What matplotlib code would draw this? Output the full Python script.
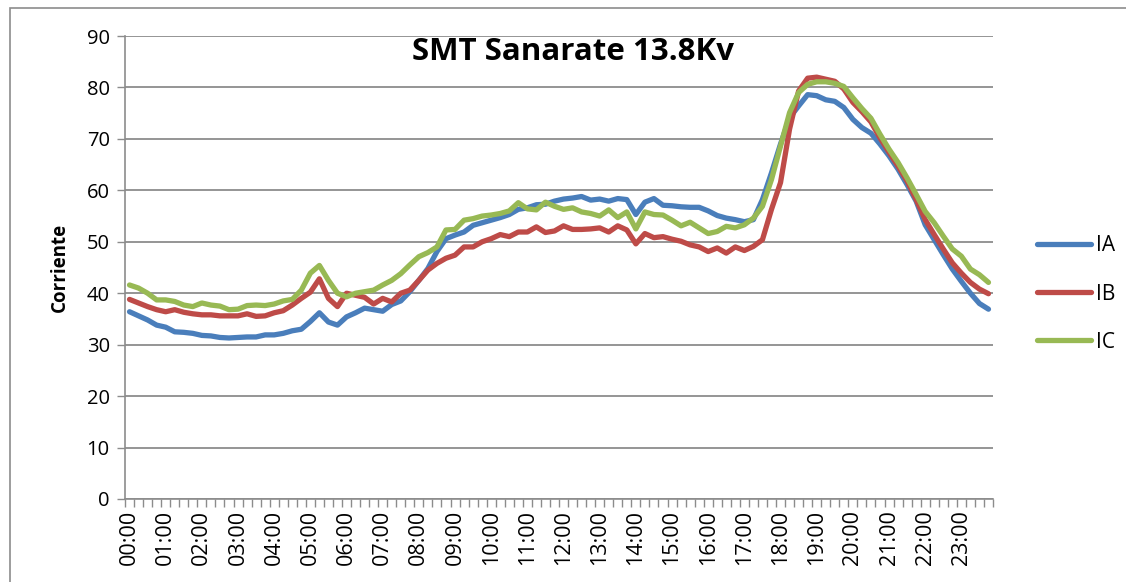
import matplotlib
matplotlib.use("Agg")
import matplotlib.pyplot as plt
from matplotlib.patches import Rectangle
import numpy as np

times = [f"{h:02d}:{m:02d}" for h in range(24) for m in (0, 15, 30, 45)]

IA = [36.4, 35.6, 34.8, 33.8, 33.4, 32.5, 32.4, 32.2, 31.8, 31.7, 31.4, 31.3,
      31.4, 31.5, 31.5, 31.9, 31.9, 32.2, 32.7, 33.0, 34.5, 36.2, 34.4, 33.8,
      35.4, 36.2, 37.1, 36.8, 36.5, 37.8, 38.5, 40.3, 42.5, 44.8, 48.1, 50.6,
      51.3, 51.9, 53.2, 53.7, 54.2, 54.7, 55.3, 56.3, 56.6, 57.2, 57.3, 57.9,
      58.3, 58.5, 58.8, 58.1, 58.3, 57.9, 58.4, 58.2, 55.3, 57.7, 58.4, 57.1,
      57.0, 56.8, 56.7, 56.7, 56.0, 55.1, 54.6, 54.3, 53.9, 54.3, 58.2, 63.4,
      69.0, 74.1, 76.4, 78.6, 78.4, 77.6, 77.3, 76.1, 73.8, 72.2, 71.1, 69.0,
      66.7, 64.1, 61.1, 57.9, 53.3, 50.4, 47.5, 44.7, 42.3, 40.0, 38.0, 36.9]

IB = [38.8, 38.1, 37.4, 36.8, 36.4, 36.8, 36.3, 36.0, 35.8, 35.8, 35.6, 35.6,
      35.6, 36.0, 35.5, 35.6, 36.2, 36.6, 37.7, 39.0, 40.2, 42.8, 39.0, 37.4,
      40.0, 39.6, 39.2, 37.9, 39.0, 38.3, 40.0, 40.6, 42.5, 44.5, 45.8, 46.8,
      47.4, 49.0, 49.0, 50.0, 50.6, 51.4, 51.0, 51.9, 51.9, 52.9, 51.8, 52.1,
      53.1, 52.4, 52.4, 52.5, 52.7, 51.9, 53.1, 52.3, 49.6, 51.6, 50.8, 51.0,
      50.5, 50.1, 49.4, 49.0, 48.1, 48.8, 47.8, 49.0, 48.3, 49.1, 50.4, 56.3,
      61.5, 71.9, 79.3, 81.8, 82.0, 81.6, 81.2, 79.7, 77.1, 75.3, 73.3, 70.2,
      67.4, 64.7, 61.8, 58.2, 54.3, 51.4, 48.6, 45.9, 43.9, 42.1, 40.8, 39.9]

IC = [41.6, 41.0, 40.0, 38.7, 38.7, 38.4, 37.7, 37.4, 38.1, 37.7, 37.5, 36.8,
      36.9, 37.6, 37.7, 37.6, 37.9, 38.5, 38.8, 40.6, 43.9, 45.4, 42.5, 40.0,
      39.3, 40.0, 40.3, 40.6, 41.6, 42.5, 43.8, 45.5, 47.1, 47.9, 49.0, 52.3,
      52.4, 54.2, 54.5, 55.0, 55.2, 55.5, 56.0, 57.6, 56.4, 56.2, 57.7, 56.9,
      56.3, 56.6, 55.8, 55.5, 55.0, 56.2, 54.7, 55.8, 52.5, 55.8, 55.3, 55.2,
      54.2, 53.1, 53.8, 52.7, 51.6, 52.0, 53.0, 52.7, 53.3, 54.6, 56.9, 62.1,
      68.6, 75.1, 79.0, 80.6, 81.1, 81.1, 80.8, 80.2, 78.0, 75.9, 74.0, 70.9,
      68.0, 65.4, 62.4, 59.2, 55.9, 53.7, 51.1, 48.6, 47.2, 44.7, 43.6, 42.1]

series_names = ["IA", "IB", "IC"]
colors = ["#4A7EBB", "#BE4B48", "#98B954"]

plt.rcParams['font.family'] = ['Open Sans', 'DejaVu Sans']

fig = plt.figure(figsize=(11.26, 5.82), dpi=100)
fig.patches.append(Rectangle((10/1126, -0.05), 1.2, 1 - 8/582 + 0.05,
                             transform=fig.transFigure, fill=False,
                             edgecolor="#8c8c8c", linewidth=1.2))

ax = fig.add_axes([125/1126, 83/582, 868/1126, 463/582])
x = np.arange(len(times))
for name, vals, c in zip(series_names, [IA, IB, IC], colors):
    ax.plot(x, vals, color=c, linewidth=3.8, label=name, solid_capstyle='round',
            solid_joinstyle='round')

ax.set_xlim(-0.5, len(times) - 0.5)
ax.set_ylim(0, 90)
ax.set_yticks(range(0, 91, 10))
ax.yaxis.grid(True, color="#8c8c8c", linewidth=1.3)
ax.set_axisbelow(True)

ax.set_xticks(np.arange(-0.5, len(times), 1), minor=True)
ax.set_xticks(x[::4])
ax.set_xticklabels(times[::4], rotation=90)
ax.tick_params(axis='x', which='major', length=0, pad=8, labelsize=15.5)
ax.tick_params(axis='x', which='minor', length=6, width=1, color="#8c8c8c",
               direction='out')
ax.tick_params(axis='y', length=6, width=1, color="#8c8c8c", labelsize=14.5, pad=5)

for s in ['top', 'right']:
    ax.spines[s].set_visible(False)
for s in ['left', 'bottom']:
    ax.spines[s].set_color("#8c8c8c")
    ax.spines[s].set_linewidth(1.2)

ax.set_ylabel("Corriente", fontsize=13.5, fontweight='bold', labelpad=12)

fig.text(573/1126, 1 - 52/582, "SMT Sanarate 13.8Kv", ha='center', va='center',
         fontsize=22.5, fontweight='bold')

leg = ax.legend(loc='center left', bbox_to_anchor=(1018/1126, 1 - 294/582),
                bbox_transform=fig.transFigure, frameon=False,
                fontsize=15, handlelength=2.6, labelspacing=1.3,
                handletextpad=0.25)

fig.savefig("out.png", dpi=100)
